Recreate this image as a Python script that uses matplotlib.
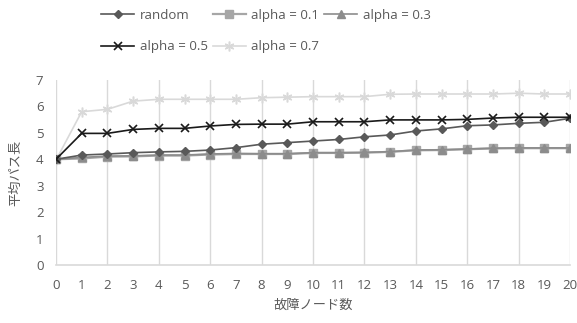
import matplotlib
matplotlib.use("Agg")
import matplotlib.pyplot as plt

plt.rcParams['font.family'] = ['Open Sans', 'Noto Sans CJK JP', 'DejaVu Sans']

# 故障ノード数
x = list(range(21))

random_vals = [4.00, 4.16, 4.20, 4.25, 4.28, 4.30, 4.35, 4.44, 4.57, 4.63, 4.69,
               4.75, 4.85, 4.92, 5.07, 5.15, 5.27, 5.30, 5.36, 5.40, 5.55]
alpha01 = [4.00, 4.03, 4.10, 4.11, 4.14, 4.14, 4.18, 4.20, 4.20, 4.20, 4.24,
           4.24, 4.25, 4.28, 4.34, 4.35, 4.38, 4.41, 4.42, 4.42, 4.42]
alpha03 = [4.00, 4.07, 4.12, 4.13, 4.16, 4.16, 4.20, 4.22, 4.21, 4.21, 4.25,
           4.25, 4.26, 4.29, 4.35, 4.36, 4.39, 4.42, 4.43, 4.43, 4.43]
alpha05 = [4.00, 4.98, 4.98, 5.13, 5.17, 5.17, 5.26, 5.32, 5.33, 5.33, 5.42,
           5.42, 5.42, 5.49, 5.49, 5.49, 5.51, 5.56, 5.59, 5.59, 5.59]
alpha07 = [3.97, 5.80, 5.89, 6.20, 6.27, 6.27, 6.27, 6.27, 6.33, 6.35, 6.37,
           6.37, 6.37, 6.46, 6.47, 6.47, 6.47, 6.47, 6.50, 6.47, 6.47]

fig = plt.figure(figsize=(5.77, 3.23), dpi=100)
ax = fig.add_axes([56 / 577, 1 - 265 / 323, 514 / 577, 185 / 323])

txt = '#595959'
grid = '#d9d9d9'

h_rand, = ax.plot(x, random_vals, color='#595959', lw=1.2, marker='D', ms=4.5, label='random', zorder=4)
h01, = ax.plot(x, alpha01, color='#a6a6a6', lw=1.6, marker='s', ms=5.5, label='alpha = 0.1', zorder=3)
h03, = ax.plot(x, alpha03, color='#8c8c8c', lw=1.2, marker='^', ms=6, label='alpha = 0.3', zorder=3)
h05, = ax.plot(x, alpha05, color='#1a1a1a', lw=1.2, marker='x', ms=6, mew=1.2, label='alpha = 0.5', zorder=5)
h07, = ax.plot(x, alpha07, color='#d9d9d9', lw=1.2, marker=(6, 2, 0), ms=7, mew=1.1, label='alpha = 0.7', zorder=2)

ax.set_xlim(0, 20)
ax.set_ylim(0, 7)
ax.set_xticks(x)
ax.set_yticks(range(8))
ax.grid(False)
for xv in range(0, 21, 2):
    ax.axvline(xv, color=grid, lw=1.0, zorder=0)

for s in ['top', 'right', 'left']:
    ax.spines[s].set_visible(False)
ax.spines['bottom'].set_color(grid)
ax.spines['bottom'].set_linewidth(1.2)
ax.tick_params(axis='both', which='both', length=0, colors=txt, labelsize=9.5)
ax.tick_params(axis='x', pad=10)
ax.tick_params(axis='y', pad=9)

ax.set_xlabel('故障ノード数', color=txt, fontsize=9.5, labelpad=5)
ax.set_ylabel('平均パス長', color=txt, fontsize=9.5, labelpad=10)

# column-major order so rows read: random, 0.1, 0.3 / 0.5, 0.7
handles = [h_rand, h05, h01, h07, h03]
fig.legend(handles=handles, labels=[h.get_label() for h in handles],
           ncol=3, loc='center', bbox_to_anchor=(266 / 577, 1 - 31 / 323),
           frameon=False, fontsize=9.5, labelcolor=txt, handlelength=2.5,
           handletextpad=0.4, columnspacing=0.4, labelspacing=1.4)

fig.savefig('out.png', dpi=100)
